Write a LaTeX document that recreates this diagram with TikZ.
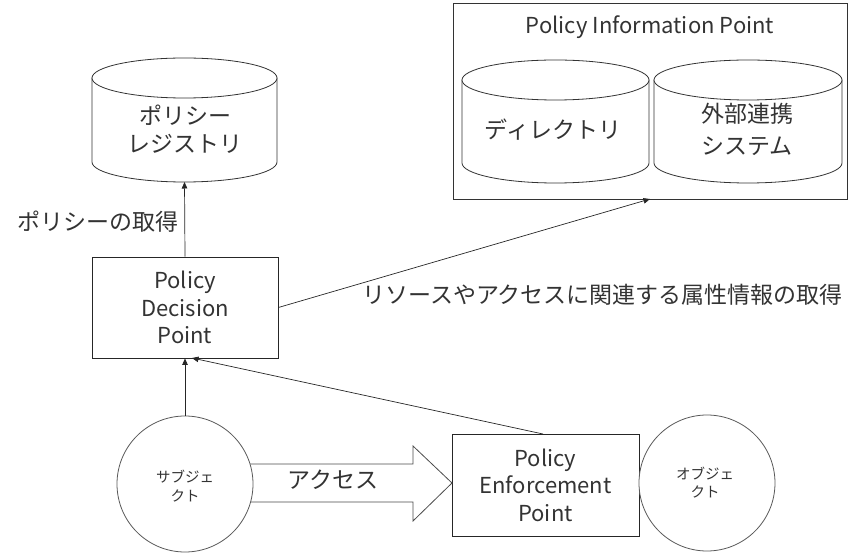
\documentclass[tikz,border=0pt]{standalone}
\usepackage{fontspec}
\setmainfont{Noto Sans CJK JP}
\usetikzlibrary{arrows.meta}
\begin{document}
\begin{tikzpicture}[x=1pt,y=1pt,
  txt/.style={text=black!80,inner sep=0pt,align=center,font=\fontsize{22}{28}\selectfont},
  small/.style={text=black!80,inner sep=0pt,align=center,font=\fontsize{14.5}{18.5}\selectfont},
  boxnode/.style={draw=black!85,line width=0.8pt,fill=white,txt},
  roundnode/.style={circle,draw=black!65,line width=0.8pt,fill=white,inner sep=0pt,minimum size=136pt},
  cyl/.style={draw=black!80,line width=0.8pt,fill=white},
  link/.style={draw=black!85,line width=0.7pt,-{Triangle[length=6.5pt,width=5.5pt]}},
  bigarrow/.style={draw=black!70,line width=0.8pt,fill=white}]
\useasboundingbox (0,0) rectangle (849,552);

% policy registry (database cylinder)
\path[cyl] (92,474) -- (92,390) arc[start angle=180,end angle=360,x radius=92.5,y radius=20] -- (277,474) -- cycle;
\draw[cyl] (184.5,474) ellipse[x radius=92.5,y radius=20];
\coordinate (regbottom) at (184.5,370);
\node[txt,font=\fontsize{23}{28}\selectfont] (reg) at (185,423) {ポリシー\\レジストリ};

% policy information point with two stores
\node[draw=black!80,line width=0.8pt,minimum width=394pt,minimum height=196pt,inner sep=0pt] (pip) at (650,451) {};
\node[txt] (piptitle) at (650,525) {Policy Information Point};
\path[cyl] (462,472) -- (462,389) arc[start angle=180,end angle=360,x radius=93.5,y radius=20] -- (649,472) -- cycle;
\draw[cyl] (555.5,472) ellipse[x radius=93.5,y radius=20];
\node[txt,font=\fontsize{23}{28}\selectfont] (dir) at (553,422) {ディレクトリ};
\path[cyl] (654,472) -- (654,389) arc[start angle=180,end angle=360,x radius=94,y radius=20] -- (842,472) -- cycle;
\draw[cyl] (748,472) ellipse[x radius=94,y radius=20];
\node[txt,font=\fontsize{23}{32}\selectfont] (ext) at (747,423) {外部連携\\システム};
\coordinate (pipin) at (650,353);

% decision and enforcement points
\node[boxnode,minimum width=186pt,minimum height=101pt,font=\fontsize{22}{27.5}\selectfont] (pdp) at (185,244.5) {Policy\\Decision\\Point};
\node[boxnode,minimum width=187pt,minimum height=102pt,font=\fontsize{22}{27.5}\selectfont] (pep) at (545.5,67) {Policy\\Enforcement\\Point};
\coordinate (peptop) at (543,118);
\coordinate (pdpin) at (192,194);

% access block arrow from subject to the enforcement point
\path[bigarrow] (240,88) -- (413,88) -- (413,106) -- (452,69) -- (413,31) -- (413,50) -- (240,50) -- cycle;
\node[txt,font=\fontsize{23}{28}\selectfont] (access) at (333,72) {アクセス};

% subject and object
\node[roundnode] (subj) at (185,68) {};
\node[small] (subjtext) at (185,66) {サブジェ\\クト};
\node[roundnode] (obj) at (707,69) {};
\node[small] (objtext) at (705,69.5) {オブジェ\\クト};

% connectors
\draw[link] (pdp.north) -- (regbottom);
\node[txt,font=\fontsize{23}{28}\selectfont] (getpolicy) at (98,330) {ポリシーの取得};
\draw[link] (pdp.east) -- (pipin);
\node[txt,font=\fontsize{23}{28}\selectfont,anchor=west] (getattr) at (362,257) {リソースやアクセスに関連する属性情報の取得};
\draw[link] (subj.north) -- (pdp.south);
\draw[link] (peptop) -- (pdpin);
\end{tikzpicture}
\end{document}
